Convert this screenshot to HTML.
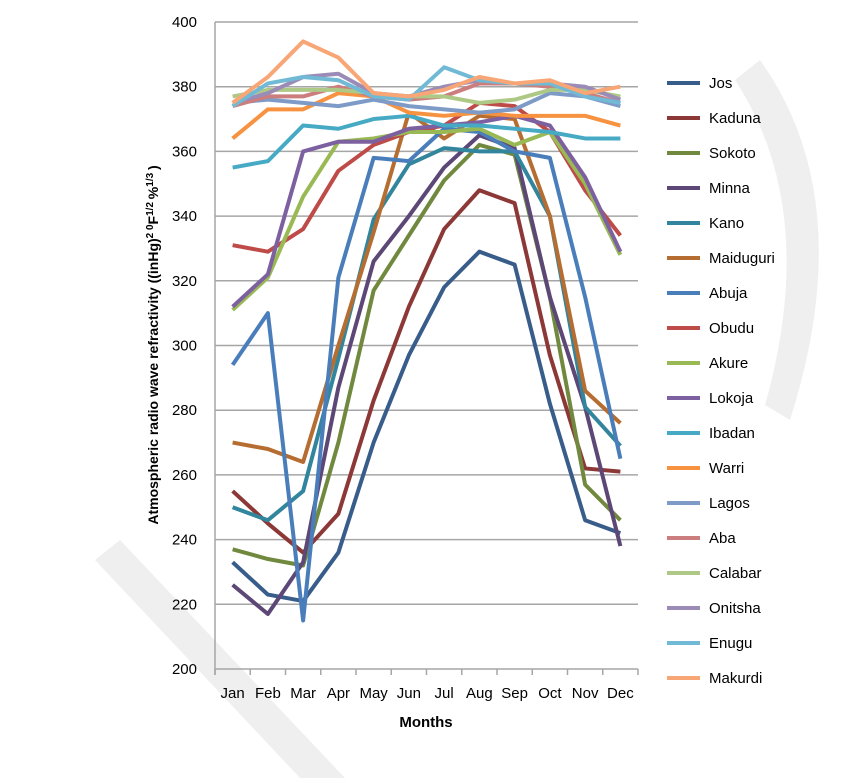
<!DOCTYPE html>
<html><head><meta charset="utf-8"><style>
body{margin:0;background:#fff;}
svg text{font-family:"Liberation Sans",sans-serif;}
</style></head><body>
<svg id="chart" width="850" height="778" viewBox="0 0 850 778" xmlns="http://www.w3.org/2000/svg">
<g>
<path d="M95 560 L120 540 L345 778 L300 778 Z" fill="#efefef"/>
<path d="M760 60 Q860 200 790 420 L765 405 Q820 210 735 80 Z" fill="#efefef"/>
</g>
<g id="grid"></g>
<g id="yticks"></g>
<g id="xticks"></g>
<g id="series"></g>
<g id="legend"></g>
<text x="426" y="727" text-anchor="middle" font-size="15" font-weight="bold">Months</text>
<text transform="translate(158,345) rotate(-90)" text-anchor="middle" font-size="14" font-weight="bold">Atmospheric  radio wave refractivity ((inHg)<tspan baseline-shift="super" font-size="10">2 0</tspan>F<tspan baseline-shift="super" font-size="10">1/2 </tspan>%<tspan baseline-shift="super" font-size="10">1/3 </tspan>)</text>
</svg>
<script>
const months=["Jan","Feb","Mar","Apr","May","Jun","Jul","Aug","Sep","Oct","Nov","Dec"];
const yTicks=[200,220,240,260,280,300,320,340,360,380,400];
const seriesNames=["Jos","Kaduna","Sokoto","Minna","Kano","Maiduguri","Abuja","Obudu","Akure","Lokoja","Ibadan","Warri","Lagos","Aba","Calabar","Onitsha","Enugu","Makurdi"];
const jos=[233,223,221,236,270,297,318,329,325,282,246,242];
const kaduna=[255,245,236,248,283,312,336,348,344,297,262,261];
const sokoto=[237,234,232,270,317,334,351,362,359,315,257,246];
const minna=[226,217,233,287,326,340,355,365,361,315,281,238];
const kano=[250,246,255,296,339,356,361,360,360,340,281,269];
const maiduguri=[270,268,264,300,335,372,364,371,370,340,286,276];
const abuja=[294,310,215,321,358,357,367,366,360,358,315,265];
const obudu=[331,329,336,354,362,366,368,375,374,366,348,334];
const akure=[311,321,346,363,364,366,366,367,362,366,350,328];
const lokoja=[312,322,360,363,363,367,368,369,371,368,352,329];
const ibadan=[355,357,368,367,370,371,368,368,367,366,364,364];
const warri=[364,373,373,378,377,372,371,372,371,371,371,368];
const lagos=[375,376,375,374,376,374,373,372,373,378,377,374];
const aba=[374,377,377,380,377,376,377,381,381,380,378,375];
const calabar=[377,379,379,379,378,377,377,375,376,379,379,377];
const onitsha=[375,378,383,384,378,377,380,382,381,381,380,376];
const enugu=[374,381,383,382,377,376,386,382,381,381,377,375];
const makurdi=[375,383,394,389,378,377,379,383,381,382,378,380];
const seriesValues=[jos,kaduna,sokoto,minna,kano,maiduguri,abuja,obudu,akure,lokoja,ibadan,warri,lagos,aba,calabar,onitsha,enugu,makurdi];
const colors=["#385D8A","#8C3836","#71893F","#5C4776","#31859C","#B66D31","#4A7EBB","#BE4B48","#98B954","#7D60A0","#46AAC5","#F69240","#7E9BC8","#CB7E7D","#AEC986","#9A8CB7","#71BAD5","#F8A676"];
const NS="http://www.w3.org/2000/svg";
const X0=215,X1=638,Y0=669,Y1=22;
const step=(X1-X0)/months.length;
const xPos=i=>X0+step*(i+0.5);
const yPos=v=>Y0-(v-200)/(400-200)*(Y0-Y1);
function mk(t,a,p){const e=document.createElementNS(NS,t);for(const k in a)e.setAttribute(k,a[k]);p.appendChild(e);return e;}
const grid=document.getElementById('grid'),yt=document.getElementById('yticks'),xt=document.getElementById('xticks');
yTicks.forEach(v=>{
 const l=mk('line',{x1:X0,x2:X1,y1:yPos(v),y2:yPos(v),stroke:'#a6a6a6','stroke-width':1.5},grid);
 
 
 const t=mk('text',{x:197,y:yPos(v)+5,'text-anchor':'end','font-size':15},yt);
 t.textContent=v;
 
 
});
mk('line',{x1:X0,x2:X0,y1:Y1,y2:Y0+6,stroke:'#a6a6a6','stroke-width':1.5},grid);
for(let i=0;i<=months.length;i++){mk('line',{x1:X0+step*i,x2:X0+step*i,y1:Y0,y2:Y0+6,stroke:'#a6a6a6','stroke-width':1.5},grid);}
months.forEach((m,i)=>{
 const t=mk('text',{x:xPos(i),y:698,'text-anchor':'middle','font-size':15},xt);
 t.textContent=m;
 
 
});
const sg=document.getElementById('series'),lg=document.getElementById('legend');
seriesValues.forEach((vals,s)=>{
 const p=mk('polyline',{points:vals.map((v,i)=>xPos(i)+','+yPos(v)).join(' '),fill:'none',stroke:colors[s],'stroke-width':4,'stroke-linejoin':'round'},sg);
 
 
 const y=83+35*s;
 const g=mk('g',{},lg);
 
 
 mk('line',{x1:667,x2:700,y1:y,y2:y,stroke:colors[s],'stroke-width':4},g);
 const t=mk('text',{x:709,y:y+5,'font-size':15},g);
 t.textContent=seriesNames[s];
});
</script>
</body></html>
